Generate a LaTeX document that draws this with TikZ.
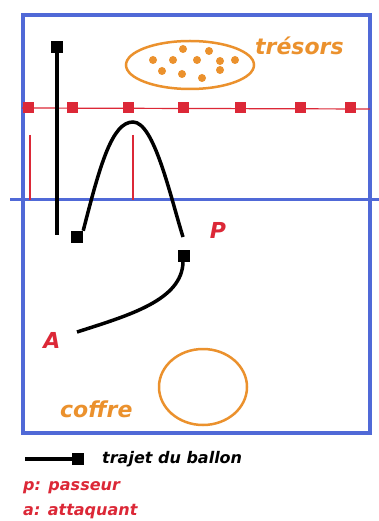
\documentclass[tikz,border=0pt]{standalone}
\usepackage{fontspec}
\usetikzlibrary{shapes.geometric}
\newfontfamily\hand{DejaVu Sans}
\definecolor{fblue}{RGB}{80,105,215}
\definecolor{fred}{RGB}{220,40,55}
\definecolor{forange}{RGB}{235,145,45}
\tikzset{
  bsq/.style={fill=black,minimum size=12pt,inner sep=0pt},
  rsq/.style={fill=fred,minimum size=11pt,inner sep=0pt},
  dot/.style={circle,fill=forange,minimum size=8pt,inner sep=0pt},
  ballpath/.style={line width=3.5pt,black},
  lbl/.style={font=\hand\bfseries\itshape\fontsize{16}{18}\selectfont,inner sep=0pt},
  big/.style={font=\hand\bfseries\itshape\fontsize{22}{24}\selectfont,inner sep=0pt},
}
\begin{document}
\begin{tikzpicture}[x=1pt,y=-1pt]
\useasboundingbox[fill=white] (0,0) rectangle (379,521);
% frame
\draw[fblue,line width=3.5pt] (23,15) rectangle (370,433);
\draw[fblue,line width=3pt] (10,200) -- (379,200);
% red net line
\coordinate (rl) at (22,108);
\coordinate (rr) at (370,109);
\draw[fred,line width=1.2pt] (rl) -- (rr);
\foreach \i/\x in {1/28,2/72,3/128,4/183,5/240,6/300,7/350}
  \node[rsq] (r\i) at (\x,108) {};
\coordinate (v1a) at (30,135); \coordinate (v1b) at (30,200);
\coordinate (v2a) at (133,135); \coordinate (v2b) at (133,200);
\draw[fred,line width=2pt] (v1a) -- (v1b);
\draw[fred,line width=2pt] (v2a) -- (v2b);
% treasures
\node[draw=forange,line width=2.5pt,ellipse,minimum width=128pt,minimum height=48pt] (tres) at (190,65) {};
\foreach \i/\x/\y in {1/183/49,2/209/51,3/153/60,4/173/60,5/197/60,6/220/61,7/235/60,8/162/71,9/182/74,10/220/70,11/202/78}
  \node[dot] (d\i) at (\x,\y) {};
\node[big,text=forange,anchor=west] (tlab) at (255,46) {trésors};
% coffre
\node[draw=forange,line width=2.5pt,ellipse,minimum width=88pt,minimum height=76pt] (coffre) at (203,387) {};
\node[big,text=forange,anchor=west] (clab) at (60,409) {coffre};
% ball path
\node[bsq] (s1) at (57,47) {};
\node[bsq] (s2) at (77,237) {};
\node[bsq] (s3) at (184,256) {};
\coordinate (vend) at (57,235);
\coordinate (c2a) at (183,237);
\coordinate (c3a) at (183,262);
\coordinate (aend) at (77,332);
\draw[ballpath] (s1) -- (vend);
\draw[ballpath] (s2.north east) .. controls (100,165) and (112,122) .. (133,122) .. controls (154,122) and (170,195) .. (c2a);
\draw[ballpath] (c3a) .. controls (182,300) and (130,315) .. (aend);
\node[big,text=fred] (plab) at (218,230) {P};
\node[big,text=fred] (alab) at (52,340) {A};
% legend
\coordinate (lg0) at (25,459);
\node[bsq] (lgs) at (78,459) {};
\draw[ballpath] (lg0) -- (lgs);
\node[lbl,text=black,anchor=west] (lgt) at (102,459) {trajet du ballon};
\node[lbl,text=fred,anchor=west] (lp) at (23,488) {p: passeur};
\node[lbl,text=fred,anchor=west] (la) at (23,512) {a: attaquant};
\end{tikzpicture}
\end{document}
